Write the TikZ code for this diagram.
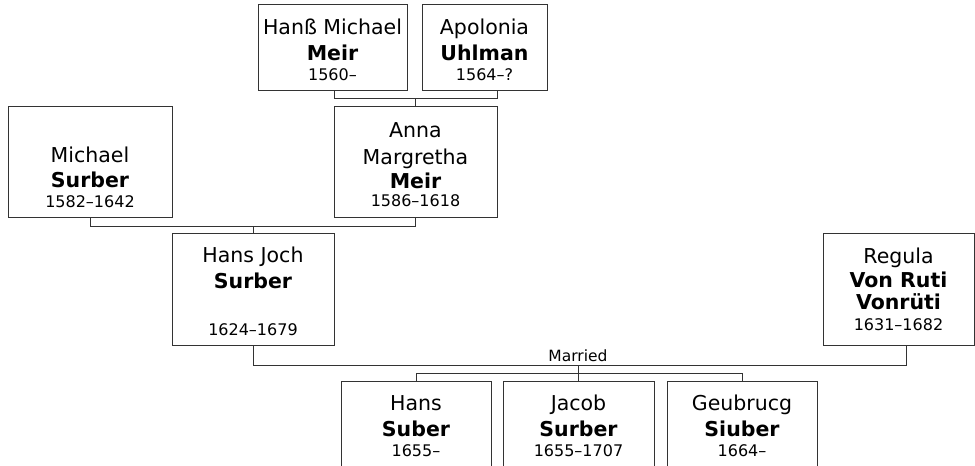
\documentclass[tikz,border=0pt]{standalone}
\usepackage{fontspec}
\setmainfont{DejaVu Sans}
\usetikzlibrary{calc}
\definecolor{ln}{HTML}{333333}
\tikzset{
  box/.style={draw=ln, line width=1pt, inner sep=0pt, outer sep=0pt, fill=white},
  conn/.style={draw=ln, line width=1pt},
  nm/.style={anchor=base, inner sep=0pt, font=\fontsize{20.5}{24}\selectfont},
  bd/.style={anchor=base, inner sep=0pt, font=\fontsize{20.5}{24}\selectfont\bfseries},
  dt/.style={anchor=base, inner sep=0pt, font=\fontsize{16}{19}\selectfont},
  lbl/.style={anchor=base, inner sep=0pt, font=\fontsize{15.5}{18}\selectfont}
}
\begin{document}
\begin{tikzpicture}[x=1pt,y=-1pt]
\useasboundingbox (0,0) rectangle (975,466);
\clip (0,0) rectangle (975,466);
% boxes
\node[box, minimum width=149, minimum height=86] (hm) at (332.5,47) {};
\node[box, minimum width=125, minimum height=86] (ap) at (484.5,47) {};
\node[box, minimum width=163, minimum height=111] (an) at (415.5,161.5) {};
\node[box, minimum width=164, minimum height=111] (ms) at (90,161.5) {};
\node[box, minimum width=162, minimum height=112] (hj) at (253,289) {};
\node[box, minimum width=151, minimum height=112] (rg) at (898.5,289) {};
\node[box, minimum width=150, minimum height=119] (c1) at (416,440.5) {};
\node[box, minimum width=151, minimum height=119] (c2) at (578.5,440.5) {};
\node[box, minimum width=150, minimum height=119] (c3) at (742,440.5) {};
% connectors
\draw[conn] (hm.south -| an.north west) -- ++(0,8) -| (ap.south -| an.north east);
\draw[conn] (an.north) -- ++(0,-8);
\draw[conn] (ms.south) -- ++(0,9) -| (an.south);
\draw[conn] (hj.north) -- ++(0,-7);
\coordinate (rgc) at ($(rg.south)+(7.5,0)$);
\draw[conn] (hj.south) -- ++(0,20) -| (rgc);
\draw[conn] (c2.north) -- ++(0,-16);
\draw[conn] (c1.north) -- ++(0,-8) -| (c3.north);
\node[lbl] (mar) at (578,361.7) {Married};
% texts
\node[nm] (hm1) at (332.5,34) {Hanß Michael};
\node[bd] (hm2) at (332.5,60) {Meir};
\node[dt] (hm3) at (332.5,80) {1560–};
\node[nm] (ap1) at (484.5,34) {Apolonia};
\node[bd] (ap2) at (484.5,60) {Uhlman};
\node[dt] (ap3) at (484.5,80) {1564–?};
\node[nm] (ms1) at (90,162) {Michael};
\node[bd] (ms2) at (90,187) {Surber};
\node[dt] (ms3) at (90,207) {1582–1642};
\node[nm] (an1) at (415.5,137) {Anna};
\node[nm] (an2) at (415.5,164) {Margretha};
\node[bd] (an3) at (415.5,188) {Meir};
\node[dt] (an4) at (415.5,206) {1586–1618};
\node[nm] (hj1) at (253,262) {Hans Joch};
\node[bd] (hj2) at (253,288) {Surber};
\node[dt] (hj3) at (253,335) {1624–1679};
\node[nm] (rg1) at (898.5,263) {Regula};
\node[bd] (rg2) at (898.5,287) {Von Ruti};
\node[bd] (rg3) at (898.5,309) {Vonrüti};
\node[dt] (rg4) at (898.5,330) {1631–1682};
\node[nm] (c11) at (416,410) {Hans};
\node[bd] (c12) at (416,436) {Suber};
\node[dt] (c13) at (416,456.5) {1655–};
\node[nm] (c21) at (578.5,410) {Jacob};
\node[bd] (c22) at (578.5,436) {Surber};
\node[dt] (c23) at (578.5,456.5) {1655–1707};
\node[nm] (c31) at (742,410) {Geubrucg};
\node[bd] (c32) at (742,436) {Siuber};
\node[dt] (c33) at (742,456.5) {1664–};
\end{tikzpicture}
\end{document}
